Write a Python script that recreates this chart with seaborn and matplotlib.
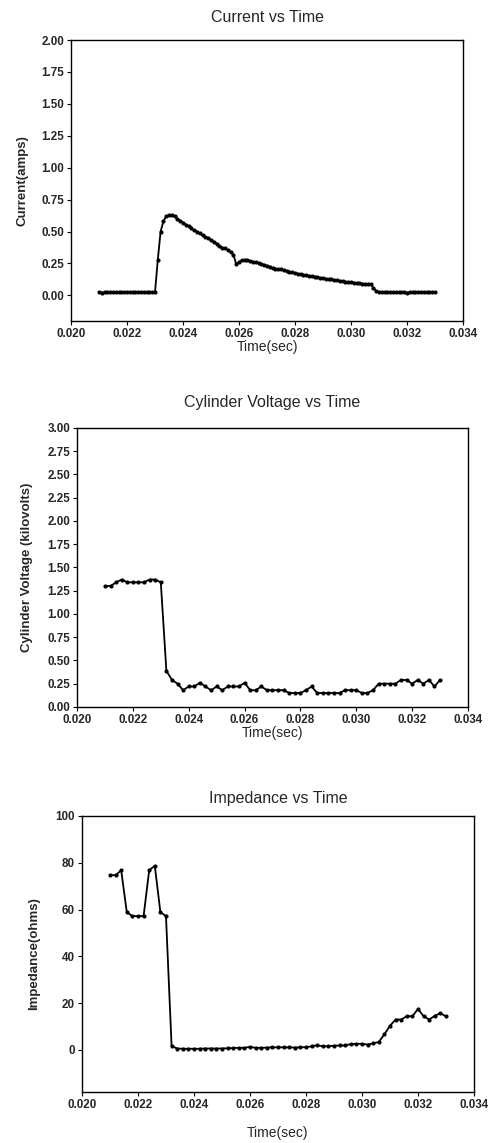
import numpy as np
import pandas as pd
import matplotlib
matplotlib.use("Agg")
import matplotlib.pyplot as plt
import seaborn as sns

# ---------------- data ----------------
# Current vs Time (sampled every 0.1 ms from 0.0210 to 0.0330 s)
current_time = np.round(np.arange(0.0210, 0.03301, 0.0001), 5)
current_amps = [
    0.025, 0.022, 0.025, 0.024, 0.025, 0.026, 0.025, 0.024, 0.025, 0.025,
    0.026, 0.024, 0.025, 0.024, 0.023, 0.025, 0.025, 0.024, 0.026, 0.025,
    0.025,
    0.28, 0.50, 0.58, 0.62, 0.63, 0.63, 0.62, 0.60, 0.585, 0.57,
    0.555, 0.54, 0.525, 0.51, 0.50, 0.485, 0.47, 0.46, 0.45, 0.435,
    0.42, 0.405, 0.39, 0.375, 0.37, 0.355, 0.34, 0.32, 0.245, 0.26,
    0.275, 0.28, 0.275, 0.27, 0.265, 0.26, 0.255, 0.245, 0.24, 0.232,
    0.225, 0.215, 0.21, 0.207, 0.205, 0.198, 0.19, 0.185, 0.18, 0.175,
    0.17, 0.168, 0.162, 0.158, 0.155, 0.152, 0.148, 0.143, 0.138, 0.135,
    0.132, 0.128, 0.125, 0.12, 0.118, 0.115, 0.11, 0.107, 0.105, 0.102,
    0.10, 0.098, 0.097, 0.093, 0.09, 0.09, 0.088, 0.06, 0.035, 0.028,
    0.026, 0.027, 0.025, 0.026, 0.026, 0.027, 0.026, 0.025, 0.026, 0.022,
    0.027, 0.028, 0.027, 0.028, 0.027, 0.027, 0.026, 0.023, 0.026, 0.028,
]

# Cylinder voltage and impedance (sampled every 0.2 ms)
volt_time = np.round(np.arange(0.0210, 0.03301, 0.0002), 5)
voltage_kv = [
    1.30, 1.30, 1.34, 1.37, 1.34, 1.34, 1.34, 1.34, 1.37, 1.37,
    1.34, 0.39, 0.29, 0.25, 0.18, 0.22, 0.22, 0.26, 0.22, 0.18,
    0.22, 0.18, 0.22, 0.22, 0.22, 0.26, 0.18, 0.18, 0.22, 0.18,
    0.18, 0.18, 0.18, 0.15, 0.15, 0.15, 0.18, 0.22, 0.15, 0.15,
    0.15, 0.15, 0.15, 0.18, 0.18, 0.18, 0.15, 0.15, 0.18, 0.25,
    0.25, 0.25, 0.25, 0.29, 0.29, 0.25, 0.29, 0.25, 0.29, 0.22,
    0.29,
]
impedance_ohms = [
    74.7, 74.7, 76.8, 58.9, 57.2, 57.2, 57.2, 76.8, 78.7, 58.9,
    57.2, 1.7, 0.6, 0.5, 0.5, 0.5, 0.5, 0.6, 0.6, 0.6,
    0.6, 0.7, 0.8, 0.9, 0.9, 1.3, 0.9, 0.9, 1.0, 1.1,
    1.1, 1.1, 1.1, 1.0, 1.1, 1.2, 1.5, 2.0, 1.5, 1.6,
    1.8, 1.9, 1.9, 2.5, 2.6, 2.6, 2.3, 2.8, 3.4, 6.7,
    10.3, 13.0, 13.0, 14.4, 14.4, 17.5, 14.4, 13.0, 14.6, 15.7,
    14.3,
]

assert len(current_amps) == len(current_time)
assert len(voltage_kv) == len(volt_time)
assert len(impedance_ohms) == len(volt_time)

x_ticks = [0.020, 0.022, 0.024, 0.026, 0.028, 0.030, 0.032, 0.034]
x_ticklabels = ["0.020", "0.022", "0.024", "0.026", "0.028", "0.030", "0.032", "0.034"]

# ---------------- style ----------------
sns.set_style("ticks")
plt.rcParams["font.family"] = ["Liberation Sans", "DejaVu Sans"]

fig = plt.figure(figsize=(4.88, 11.43), dpi=100)

ax1 = fig.add_axes([0.1455, 0.7192, 0.8033, 0.2458])
ax2 = fig.add_axes([0.1578, 0.3815, 0.8012, 0.2441])
ax3 = fig.add_axes([0.1680, 0.0446, 0.8033, 0.2415])

df1 = pd.DataFrame({"t": current_time, "v": current_amps})
df2 = pd.DataFrame({"t": volt_time, "v": voltage_kv})
df3 = pd.DataFrame({"t": volt_time, "v": impedance_ohms})

line_kw = dict(color="black", linewidth=1.3, marker="o", markersize=3.0,
               markeredgewidth=0, markerfacecolor="black")

sns.lineplot(data=df1, x="t", y="v", ax=ax1, **line_kw)
sns.lineplot(data=df2, x="t", y="v", ax=ax2, **line_kw)
sns.lineplot(data=df3, x="t", y="v", ax=ax3, **line_kw)


def style(ax, title, ylabel, yticks, yticklabels, ylim, xlabelpad, ylabelpad, titlepad):
    ax.set_xlim(0.020, 0.034)
    ax.set_ylim(*ylim)
    ax.set_xticks(x_ticks)
    ax.set_xticklabels(x_ticklabels, fontsize=8.4, fontweight="bold")
    ax.set_yticks(yticks)
    ax.set_yticklabels(yticklabels, fontsize=8.4, fontweight="bold")
    ax.tick_params(axis="both", direction="out", length=3, width=0.8,
                   color="black", pad=2, top=False, right=False)
    for s in ax.spines.values():
        s.set_visible(True)
        s.set_color("black")
        s.set_linewidth(1.0)
    ax.set_title(title, fontsize=11.5, pad=titlepad)
    ax.set_xlabel("Time(sec)", fontsize=10, labelpad=xlabelpad)
    ax.set_ylabel(ylabel, fontsize=9.5, fontweight="bold", labelpad=ylabelpad)


style(ax1, "Current vs Time", "Current(amps)",
      [0.0, 0.25, 0.5, 0.75, 1.0, 1.25, 1.5, 1.75, 2.0],
      ["0.00", "0.25", "0.50", "0.75", "1.00", "1.25", "1.50", "1.75", "2.00"],
      (-0.2, 2.0), xlabelpad=0, ylabelpad=9.5, titlepad=13)

style(ax2, "Cylinder Voltage vs Time", "Cylinder Voltage (kilovolts)",
      [0.0, 0.25, 0.5, 0.75, 1.0, 1.25, 1.5, 1.75, 2.0, 2.25, 2.5, 2.75, 3.0],
      ["0.00", "0.25", "0.50", "0.75", "1.00", "1.25", "1.50", "1.75", "2.00",
       "2.25", "2.50", "2.75", "3.00"],
      (0.0, 3.0), xlabelpad=0, ylabelpad=10, titlepad=15)

style(ax3, "Impedance vs Time", "Impedance(ohms)",
      [0, 20, 40, 60, 80, 100],
      ["0", "20", "40", "60", "80", "100"],
      (-18, 100), xlabelpad=11, ylabelpad=11, titlepad=9)

fig.savefig("out.png", dpi=100)
